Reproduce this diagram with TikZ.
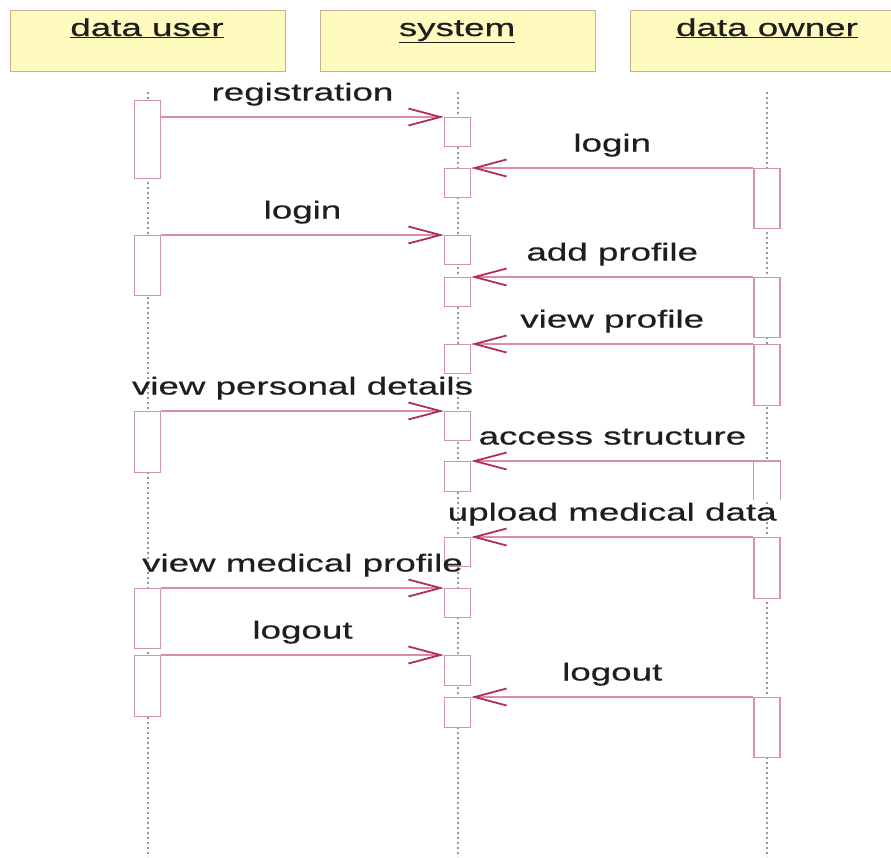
\documentclass[tikz,border=0pt]{standalone}
\usepackage{fontspec}
\newfontfamily\lblfont[FakeStretch=1.5,FakeBold=0.5]{Liberation Sans}
\usetikzlibrary{arrows.meta}
\definecolor{hdrfill}{RGB}{255,250,190}
\definecolor{hdrdraw}{RGB}{201,174,146}
\definecolor{actdraw}{RGB}{208,150,168}
\definecolor{msgline}{RGB}{218,140,168}
\definecolor{tipred}{RGB}{176,48,88}
\definecolor{lifegray}{RGB}{150,150,150}
\definecolor{txt}{RGB}{30,30,30}
\begin{document}
\begin{tikzpicture}[x=1pt,y=-1pt,
 hdr/.style={draw=hdrdraw,fill=hdrfill,line width=1.2pt,minimum width=275pt,minimum height=61pt,inner sep=0pt,anchor=north west},
 hdrtxt/.style={font=\lblfont\fontsize{24.5}{28}\selectfont,text=txt,inner sep=0pt,anchor=base},
 act/.style={draw=actdraw,fill=white,line width=1.2pt,minimum width=26pt,inner sep=0pt,anchor=north},
 openact/.style={fill=white,minimum width=26pt,inner sep=0pt,anchor=north},
 life/.style={draw=lifegray,line width=2pt,dash pattern=on 2pt off 3pt},
 msg/.style={draw=msgline,line width=1.3pt,-{Straight Barb[length=32pt,width=17pt,color=tipred,line width=1.8pt]}},
 lbl/.style={font=\lblfont\fontsize{24.5}{28}\selectfont,text=txt,inner sep=0pt,midway,anchor=base,yshift=16.5pt}
]
\useasboundingbox[fill=white] (0,0) rectangle (891,857);

% headers
\node[hdr] (hu) at (10,10) {};
\node[hdr] (hs) at (320,10) {};
\node[hdr] (ho) at (630,10) {};
\node[hdrtxt] (hut) at (147,36) {\underline{data user}};
\node[hdrtxt] (hst) at (457,36) {\underline{system}};
\node[hdrtxt] (hot) at (767,36) {\underline{data owner}};

% lifelines
\coordinate (ut) at (147.5,92); \coordinate (ub) at (147.5,857);
\coordinate (st) at (457.5,92); \coordinate (sb) at (457.5,857);
\coordinate (ot) at (767,92);   \coordinate (ob) at (767,857);
\draw[life] (ut) -- (ub);
\draw[life] (st) -- (sb);
\draw[life] (ot) -- (ob);

% user activations
\node[act,minimum height=78pt] (u1) at (147.5,100) {};
\node[act,minimum height=60pt] (u2) at (147.5,235) {};
\node[act,minimum height=61pt] (u3) at (147.5,411) {};
\node[act,minimum height=60pt] (u4) at (147.5,588) {};
\node[act,minimum height=61pt] (u5) at (147.5,655) {};

% system activations
\node[act,minimum height=29pt] (s1) at (457.5,117) {};
\node[act,minimum height=29pt] (s2) at (457.5,168) {};
\node[act,minimum height=29pt] (s3) at (457.5,235) {};
\node[act,minimum height=29pt] (s4) at (457.5,277) {};
\node[act,minimum height=29pt] (s5) at (457.5,344) {};
\node[act,minimum height=29pt] (s6) at (457.5,411) {};
\node[act,minimum height=30pt] (s7) at (457.5,461) {};
\node[act,minimum height=29pt] (s8) at (457.5,537) {};
\node[act,minimum height=29pt] (s9) at (457.5,588) {};
\node[act,minimum height=30pt] (s10) at (457.5,655) {};
\node[act,minimum height=30pt] (s11) at (457.5,697) {};

% owner activations
\node[act,minimum height=60pt] (o1) at (767,168) {};
\node[act,minimum height=60pt] (o2) at (767,277) {};
\node[act,minimum height=61pt] (o3) at (767,344) {};
\node[openact,minimum height=39pt] (o4) at (767,461) {};
\draw[draw=actdraw,line width=1.2pt] (o4.south west) -- (o4.north west) -- (o4.north east) -- (o4.south east);
\node[act,minimum height=61pt] (o5) at (767,537) {};
\node[act,minimum height=60pt] (o6) at (767,697) {};

% messages
\draw[msg] (u1.east |- s1.north) -- (s1.north west) node[lbl] {registration};
\draw[msg] (o1.north west) -- (s2.north east) node[lbl] {login};
\draw[msg] (u2.north east) -- (s3.north west) node[lbl] {login};
\draw[msg] (o2.north west) -- (s4.north east) node[lbl] {add profile};
\draw[msg] (o3.north west) -- (s5.north east) node[lbl] {view profile};
\draw[msg] (u3.north east) -- (s6.north west) node[lbl] {view personal details};
\draw[msg] (o4.north west) -- (s7.north east) node[lbl] {access structure};
\draw[msg] (o5.north west) -- (s8.north east) node[lbl] {upload medical data};
\draw[msg] (u4.north east) -- (s9.north west) node[lbl] {view medical profile};
\draw[msg] (u5.north east) -- (s10.north west) node[lbl] {logout};
\draw[msg] (o6.north west) -- (s11.north east) node[lbl] {logout};
\end{tikzpicture}
\end{document}
